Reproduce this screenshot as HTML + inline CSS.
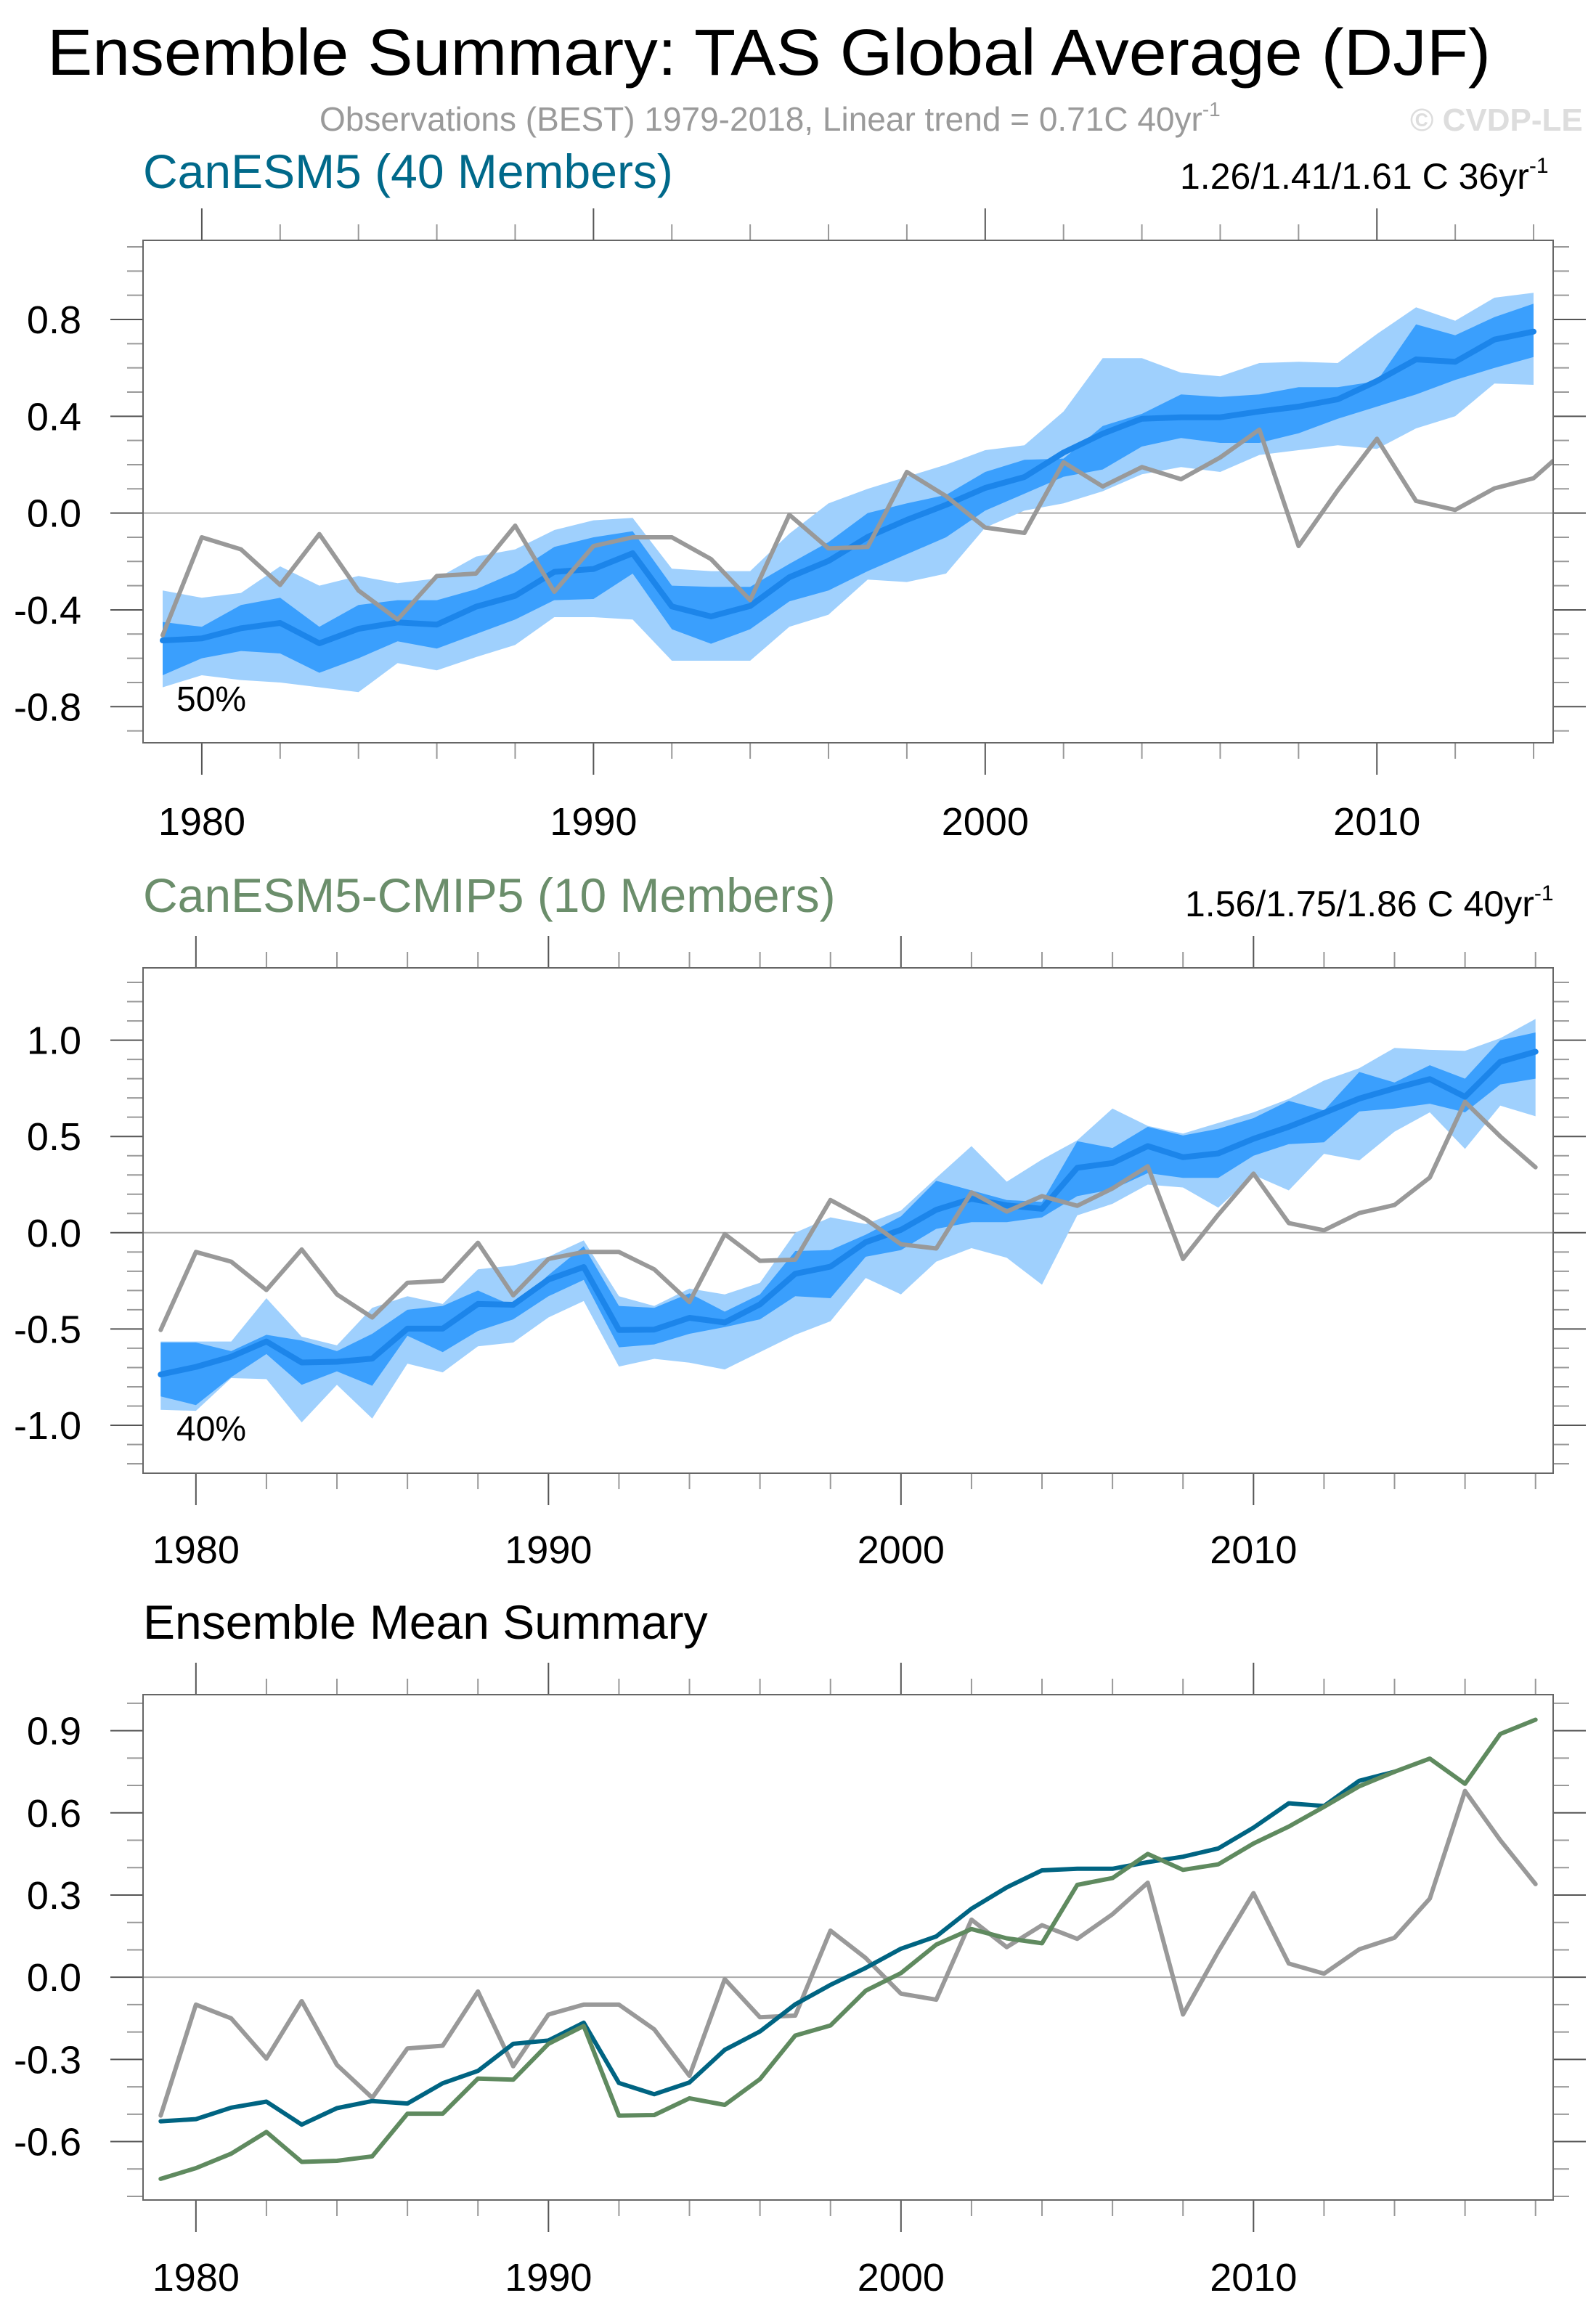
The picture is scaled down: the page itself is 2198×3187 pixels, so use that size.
<!DOCTYPE html>
<html><head><meta charset="utf-8"><style>
html,body{margin:0;padding:0;background:#fff;}
svg{display:block;font-family:"Liberation Sans",Arial,sans-serif;}
</style></head><body>
<svg id="chart" width="2198" height="3187" viewBox="0 0 2198 3187" xmlns="http://www.w3.org/2000/svg">
<text x="65" y="103" font-size="90" textLength="1988" lengthAdjust="spacingAndGlyphs">Ensemble Summary: TAS Global Average (DJF)</text>
<text x="440" y="180" font-size="46" fill="#9a9a9a">Observations (BEST) 1979-2018, Linear trend = 0.71C 40yr<tspan dy="-20" font-size="28">-1</tspan></text>
<text x="1942" y="180" font-size="44" font-weight="bold" fill="#dddddd">© CVDP-LE</text>
<text x="197" y="259" font-size="66" fill="#00698a">CanESM5 (40 Members)</text>
<text x="1625" y="260" font-size="50">1.26/1.41/1.61 C 36yr<tspan dy="-22" font-size="30">-1</tspan></text>
<text x="197" y="1256" font-size="66" fill="#6b8e6b">CanESM5-CMIP5 (10 Members)</text>
<text x="1632" y="1262" font-size="50">1.56/1.75/1.86 C 40yr<tspan dy="-22" font-size="30">-1</tspan></text>
<text x="197" y="2257" font-size="66">Ensemble Mean Summary</text>
<g id="p1"></g>
<g id="p2"></g>
<g id="p3"></g>
</svg>
<script>
const years = [];
for (let y = 1979; y <= 2018; y++) years.push(y);
const obs = [-0.505,-0.10,-0.15,-0.297,-0.087,-0.32,-0.44,-0.26,-0.25,-0.052,-0.325,-0.136,-0.10,-0.10,-0.19,-0.36,-0.007,-0.146,-0.14,0.17,0.07,-0.06,-0.082,0.21,0.11,0.19,0.14,0.23,0.345,-0.136,0.094,0.307,0.05,0.013,0.102,0.144,0.287,0.68,0.50,0.34];
const canMean = [-0.526,-0.518,-0.476,-0.454,-0.538,-0.478,-0.452,-0.461,-0.387,-0.342,-0.243,-0.231,-0.166,-0.386,-0.427,-0.384,-0.265,-0.198,-0.099,-0.028,0.034,0.104,0.149,0.25,0.328,0.39,0.396,0.396,0.42,0.44,0.47,0.546,0.635,0.625,0.717,0.75];
const canLightHi = [-0.32,-0.35,-0.33,-0.22,-0.30,-0.26,-0.29,-0.27,-0.18,-0.15,-0.07,-0.03,-0.02,-0.23,-0.24,-0.24,-0.085,0.04,0.10,0.15,0.20,0.26,0.28,0.42,0.64,0.64,0.58,0.565,0.62,0.625,0.62,0.74,0.85,0.795,0.89,0.91];
const canLightLo = [-0.72,-0.67,-0.69,-0.70,-0.72,-0.74,-0.62,-0.65,-0.595,-0.545,-0.43,-0.43,-0.44,-0.61,-0.61,-0.61,-0.47,-0.42,-0.275,-0.285,-0.25,-0.06,0.01,0.04,0.09,0.16,0.19,0.17,0.24,0.26,0.28,0.265,0.35,0.40,0.535,0.53];
const canDarkHi = [-0.45,-0.47,-0.38,-0.35,-0.47,-0.38,-0.36,-0.36,-0.315,-0.245,-0.14,-0.10,-0.075,-0.30,-0.305,-0.305,-0.21,-0.12,0.00,0.04,0.075,0.17,0.22,0.225,0.36,0.41,0.49,0.48,0.49,0.52,0.52,0.545,0.78,0.735,0.81,0.865];
const canDarkLo = [-0.67,-0.60,-0.57,-0.58,-0.66,-0.60,-0.53,-0.56,-0.50,-0.44,-0.36,-0.355,-0.25,-0.48,-0.54,-0.48,-0.365,-0.32,-0.24,-0.17,-0.10,0.01,0.08,0.15,0.18,0.275,0.31,0.29,0.29,0.33,0.39,0.44,0.49,0.55,0.60,0.645];
const cmipMean = [-0.736,-0.697,-0.644,-0.565,-0.674,-0.67,-0.654,-0.498,-0.498,-0.37,-0.374,-0.243,-0.178,-0.505,-0.503,-0.442,-0.466,-0.372,-0.213,-0.176,-0.049,0.015,0.119,0.176,0.142,0.124,0.337,0.362,0.45,0.392,0.412,0.488,0.55,0.622,0.697,0.75,0.798,0.706,0.888,0.94];
const cmipLightHi = [-0.565,-0.565,-0.565,-0.34,-0.54,-0.585,-0.39,-0.33,-0.37,-0.19,-0.17,-0.125,-0.04,-0.33,-0.38,-0.29,-0.32,-0.26,0.00,0.08,0.045,0.115,0.285,0.45,0.265,0.38,0.48,0.645,0.555,0.515,0.57,0.625,0.695,0.79,0.855,0.96,0.95,0.945,1.01,1.11];
const cmipLightLo = [-0.92,-0.925,-0.755,-0.76,-0.985,-0.79,-0.965,-0.68,-0.725,-0.59,-0.57,-0.44,-0.355,-0.695,-0.655,-0.675,-0.71,-0.62,-0.53,-0.46,-0.235,-0.32,-0.15,-0.08,-0.13,-0.27,0.09,0.15,0.25,0.235,0.13,0.30,0.22,0.41,0.375,0.525,0.625,0.435,0.66,0.605];
const cmipDarkHi = [-0.57,-0.57,-0.615,-0.53,-0.56,-0.615,-0.525,-0.40,-0.38,-0.30,-0.38,-0.22,-0.07,-0.38,-0.39,-0.315,-0.41,-0.32,-0.095,-0.09,-0.01,0.085,0.27,0.22,0.17,0.16,0.475,0.44,0.55,0.505,0.54,0.595,0.685,0.635,0.835,0.78,0.87,0.80,1.00,1.04];
const cmipDarkLo = [-0.85,-0.895,-0.75,-0.63,-0.79,-0.72,-0.795,-0.535,-0.62,-0.51,-0.45,-0.33,-0.245,-0.595,-0.58,-0.525,-0.49,-0.45,-0.33,-0.34,-0.125,-0.09,0.02,0.055,0.055,0.08,0.19,0.225,0.31,0.285,0.285,0.40,0.46,0.47,0.63,0.645,0.67,0.625,0.77,0.80];
const p1Ticks = [-0.8,-0.4,0.0,0.4,0.8];
const p1TickLabels = ["-0.8","-0.4","0.0","0.4","0.8"];
const p2Ticks = [-1.0,-0.5,0.0,0.5,1.0];
const p2TickLabels = ["-1.0","-0.5","0.0","0.5","1.0"];
const p3Ticks = [-0.6,-0.3,0.0,0.3,0.6,0.9];
const p3TickLabels = ["-0.6","-0.3","0.0","0.3","0.6","0.9"];
const decadeTicks = [1980,1990,2000,2010];
const decadeLabels = ["1980","1990","2000","2010"];

const NS = "http://www.w3.org/2000/svg";
function mk(tag, attrs, parent) {
  const e = document.createElementNS(NS, tag);
  for (const k in attrs) e.setAttribute(k, attrs[k]);
  parent.appendChild(e);
  return e;
}
const L = 197, R = 2139;

function panel(g, id, top, bottom, x0, x1, yRef, vRef, pxPerUnit, ticks, labels, labelY) {
  const xs = v => L + (v - x0) / (x1 - x0) * (R - L);
  const ys = v => yRef - (v - vRef) * pxPerUnit;
  const vTop = vRef + (yRef - top) / pxPerUnit, vBot = vRef - (bottom - yRef) / pxPerUnit;
  const cp = mk("clipPath", {id: "clip" + id}, g);
  mk("rect", {x: L, y: top, width: R - L, height: bottom - top}, cp);
  const inner = mk("g", {"clip-path": "url(#clip" + id + ")"}, g);
  for (let k = Math.ceil(vBot * 10 - 1e-6); k <= Math.floor(vTop * 10 + 1e-6); k++) {
    const v = k / 10, y = ys(v);
    const major = ticks.some(t => Math.abs(t - v) < 1e-6);
    const len = major ? 45 : 22;
    const t1 = mk("line", {x1: L - len, x2: L, y1: y, y2: y, stroke: major ? "#555" : "#999", "stroke-width": 2}, g);
    
    
    const t2 = mk("line", {x1: R, x2: R + len, y1: y, y2: y, stroke: major ? "#555" : "#999", "stroke-width": 2}, g);
    
    
  }
  ticks.forEach((v, i) => {
    const t = mk("text", {x: 112, y: ys(v) + 19, "font-size": 54, "text-anchor": "end"}, g);
    t.textContent = labels[i];
    
    
  });
  for (let yr = Math.ceil(x0); yr <= x1; yr++) {
    if (yr % 2) continue;
    const major = yr % 10 === 0, x = xs(yr);
    const len = major ? 44 : 22;
    const a = mk("line", {x1: x, x2: x, y1: top - len, y2: top, stroke: major ? "#555" : "#999", "stroke-width": 2}, g);
    
    
    const b = mk("line", {x1: x, x2: x, y1: bottom, y2: bottom + len, stroke: major ? "#555" : "#999", "stroke-width": 2}, g);
    
    
  }
  decadeTicks.forEach((v, i) => {
    const t = mk("text", {x: xs(v), y: labelY, "font-size": 54, "text-anchor": "middle"}, g);
    t.textContent = decadeLabels[i];
    
    
  });
  const zl = mk("line", {x1: L, x2: R, y1: ys(0), y2: ys(0), stroke: "#aaa", "stroke-width": 2}, inner);
  
  
  const box = mk("rect", {x: L, y: top, width: R - L, height: bottom - top, fill: "none", stroke: "#666", "stroke-width": 2}, g);
  
  
  return {xs, ys, inner};
}
function band(p, hi, lo, color, name) {
  let d = "";
  hi.forEach((v, i) => d += (i ? "L" : "M") + p.xs(years[i]).toFixed(1) + "," + p.ys(v).toFixed(1));
  for (let i = lo.length - 1; i >= 0; i--) d += "L" + p.xs(years[i]).toFixed(1) + "," + p.ys(lo[i]).toFixed(1);
  const e = mk("path", {d: d + "Z", fill: color}, p.inner);
  
  
}
function line(p, vals, color, w, name) {
  const pts = vals.map((v, i) => p.xs(years[i]).toFixed(1) + "," + p.ys(v).toFixed(1)).join(" ");
  const e = mk("polyline", {points: pts, fill: "none", stroke: color, "stroke-width": w, "stroke-linejoin": "round", "stroke-linecap": "round"}, p.inner);
  
  
}
function pct(p, g, txt, y) {
  const t = mk("text", {x: 243, y: y, "font-size": 48}, g);
  t.textContent = txt;
  
  
}

const g1 = document.getElementById("p1");
const P1 = panel(g1, 1, 331, 1023, 1978.5, 2014.5, 440, 0.8, 333.3, p1Ticks, p1TickLabels, 1150);
band(P1, canLightHi, canLightLo, "#9fd0fd", "canesm5-outer-band");
band(P1, canDarkHi, canDarkLo, "#3a9ffd", "canesm5-inner-band");
line(P1, canMean, "#1c85ea", 8, "canesm5-mean-line");
line(P1, obs, "#999999", 6, "observations-line");
pct(P1, g1, "50%", 979);

const g2 = document.getElementById("p2");
const P2 = panel(g2, 2, 1333, 2029, 1978.5, 2018.5, 1432.6, 1.0, 265.2, p2Ticks, p2TickLabels, 2153);
band(P2, cmipLightHi, cmipLightLo, "#9fd0fd", "cmip5-outer-band");
band(P2, cmipDarkHi, cmipDarkLo, "#3a9ffd", "cmip5-inner-band");
line(P2, cmipMean, "#1c85ea", 8, "cmip5-mean-line");
line(P2, obs, "#999999", 6, "observations-line");
pct(P2, g2, "40%", 1984);

const g3 = document.getElementById("p3");
const P3 = panel(g3, 3, 2334, 3030, 1978.5, 2018.5, 2383.6, 0.9, 377.3, p3Ticks, p3TickLabels, 3155);
line(P3, obs, "#999999", 6, "observations-line");
line(P3, canMean, "#006482", 6, "canesm5-ensemble-mean-line");
line(P3, cmipMean, "#5f8a5f", 6, "cmip5-ensemble-mean-line");
</script>
</body></html>
